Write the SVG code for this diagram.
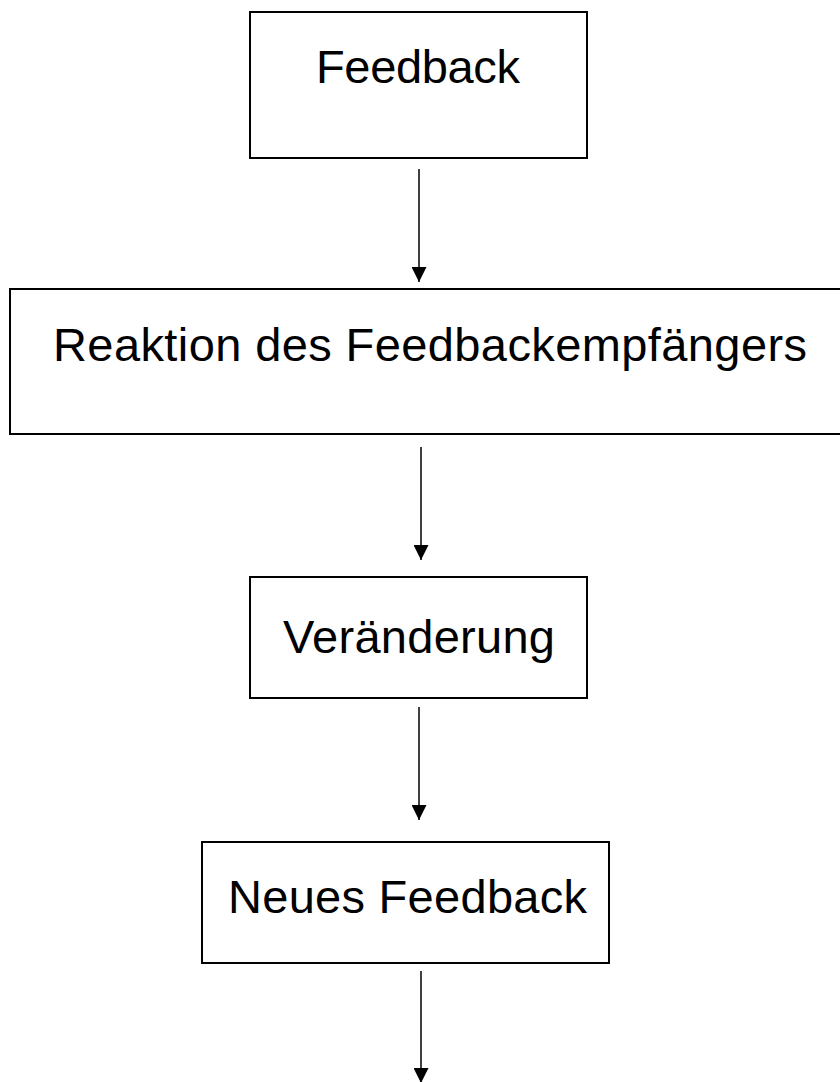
<svg xmlns="http://www.w3.org/2000/svg" width="840" height="1082" viewBox="0 0 840 1082">
<style>
.box{fill:#fff;stroke:#000;stroke-width:2}
.lbl{font-family:"Liberation Sans",Arial,sans-serif;font-size:47px;fill:#000;text-anchor:middle}
.conn{stroke:#000;stroke-width:1.5;fill:none}
</style>
<defs>
<marker id="arr" viewBox="0 0 10 10" refX="10" refY="5" markerWidth="15" markerHeight="15" markerUnits="userSpaceOnUse" orient="auto">
<path d="M0,0 L10,5 L0,10 Z" fill="#000"/>
</marker>
</defs>
<rect width="840" height="1082" fill="#fff"/>
<g id="n1"><rect class="box" x="250" y="12" width="337" height="146"/><text class="lbl" x="418" y="83" textLength="204">Feedback</text></g>
<g id="n2"><rect class="box" x="10" y="289" width="840" height="145"/><text class="lbl" x="430" y="361" textLength="754">Reaktion des Feedbackempfängers</text></g>
<g id="n3"><rect class="box" x="250" y="577" width="337" height="121"/><text class="lbl" x="419" y="653" textLength="272">Veränderung</text></g>
<g id="n4"><rect class="box" x="202" y="842" width="407" height="121"/><text class="lbl" x="407.5" y="913" textLength="359">Neues Feedback</text></g>
<g id="connectors">
<line class="conn" x1="419" y1="169" x2="419" y2="282" marker-end="url(#arr)"/>
<line class="conn" x1="421" y1="447" x2="421" y2="560" marker-end="url(#arr)"/>
<line class="conn" x1="419" y1="707" x2="419" y2="820" marker-end="url(#arr)"/>
<line class="conn" x1="421" y1="971" x2="421" y2="1083" marker-end="url(#arr)"/>
</g>
</svg>
